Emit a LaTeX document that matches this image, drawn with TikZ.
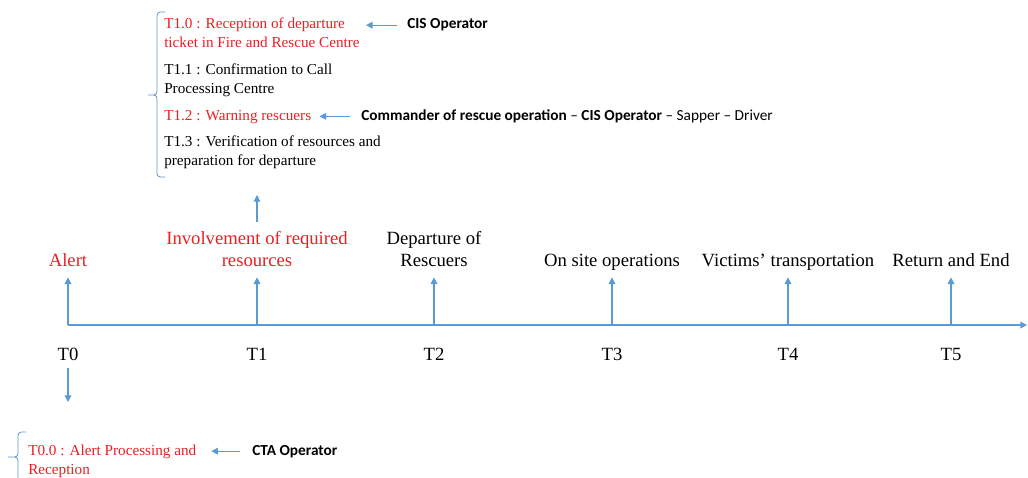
\documentclass[tikz,border=0pt]{standalone}
\usepackage{fontspec}
\setmainfont{Liberation Serif}
\newfontfamily\actorfont{Carlito}
\usetikzlibrary{arrows.meta}

\definecolor{lineblue}{RGB}{91,155,213}
\definecolor{taskred}{RGB}{235,30,35}

\begin{document}
\begin{tikzpicture}[
  x=0.75pt, y=-0.75pt,
  >={Triangle[length=5pt,width=5pt]},
  phase/.style={anchor=south, inner sep=0pt, align=center,
               font=\fontsize{14}{17}\selectfont,
               execute at end node=\strut},
  tick/.style={anchor=base, inner sep=0pt, font=\fontsize{14}{17}\selectfont},
  task/.style={anchor=base west, inner sep=0pt, align=left,
              font=\fontsize{11.4}{14.25}\selectfont},
  actor/.style={anchor=base west, inner sep=0pt,
               font=\actorfont\fontsize{11.5}{14}\selectfont},
  arrow/.style={->, draw=lineblue, fill=lineblue, line width=0.9pt},
  bracket/.style={draw=lineblue!85!gray, line width=0.6pt, rounded corners=2.5pt},
]
  \useasboundingbox (0,0) rectangle (1028,478);

  % time axis
  \coordinate (a0) at (68,325);
  \coordinate (a1) at (257,325);
  \coordinate (a2) at (434,325);
  \coordinate (a3) at (612,325);
  \coordinate (a4) at (788,325);
  \coordinate (a5) at (951,325);
  \coordinate (aend) at (1027,325);
  \draw[arrow] (a0) -- (aend);

  % phases above the axis
  \node[phase, text=taskred] (alert) at (68,274) {Alert};
  \node[phase, text=taskred] (inv) at (257,274)
    {Involvement of required\\resources};
  \node[phase] (dep) at (434,274) {Departure of\\Rescuers};
  \node[phase] (site) at (612,274) {On site operations};
  \node[phase] (vict) at (788,274) {Victims’ transportation};
  \node[phase] (ret) at (951,274) {Return and End};

  \draw[arrow, shorten >=2.5pt] (a0) -- (alert);
  \draw[arrow, shorten >=2.5pt] (a1) -- (inv);
  \draw[arrow, shorten >=2.5pt] (a2) -- (dep);
  \draw[arrow, shorten >=2.5pt] (a3) -- (site);
  \draw[arrow, shorten >=2.5pt] (a4) -- (vict);
  \draw[arrow, shorten >=2.5pt] (a5) -- (ret);

  % instants below the axis
  \node[tick] (t0) at (68,360) {T0};
  \node[tick] (t1) at (257,360) {T1};
  \node[tick] (t2) at (434,360) {T2};
  \node[tick] (t3) at (612,360) {T3};
  \node[tick] (t4) at (788,360) {T4};
  \node[tick] (t5) at (951,360) {T5};

  % tasks of T1 (base = last line)
  \coordinate (t1sub) at (257,195);
  \draw[arrow, shorten <=7pt] (inv) -- (t1sub);
  \draw[bracket] (165,12) -- (157,12) -- (157,95) -- (148,95)
                 (148,95) -- (157,95) -- (157,177) -- (165,177);

  \node[task, text=taskred] (sub10) at (164,48)
    {T1.0 : Reception of departure\\ticket in Fire and Rescue Centre};
  \node[task] (sub11) at (164,93.5)
    {T1.1 : Confirmation to Call\\Processing Centre};
  \node[task, text=taskred] (sub12) at (164,120.5)
    {T1.2 : Warning rescuers};
  \node[task] (sub13) at (164,165)
    {T1.3 : Verification of resources and\\preparation for departure};

  \node[actor] (cis) at (407,29) {\bfseries CIS Operator};
  \node[actor] (cmd) at (361,120.5)
    {{\bfseries Commander of rescue operation} – {\bfseries CIS Operator}
     – Sapper – Driver};
  \draw[arrow, shorten <=7.5pt, shorten >=4.5pt] (cis.west) -- (cis.west -| sub10.east);
  \draw[arrow, shorten <=8pt, shorten >=6pt] (cmd.west) -- (cmd.west -| sub12.east);

  % task of T0
  \coordinate (t0sub) at (68,402);
  \draw[arrow, shorten <=6pt] (t0) -- (t0sub);
  \draw[bracket] (26,432) -- (18,432) -- (18,457) -- (8,457)
                 (8,457) -- (18,457) -- (18,482) -- (26,482);

  \node[task, text=taskred] (sub00) at (28,474)
    {T0.0 : Alert Processing and\\Reception};
  \node[actor] (cta) at (252,455) {\bfseries CTA Operator};
  \draw[arrow, shorten <=9pt, shorten >=11pt] (cta.west) -- (cta.west -| sub00.east);
\end{tikzpicture}
\end{document}
